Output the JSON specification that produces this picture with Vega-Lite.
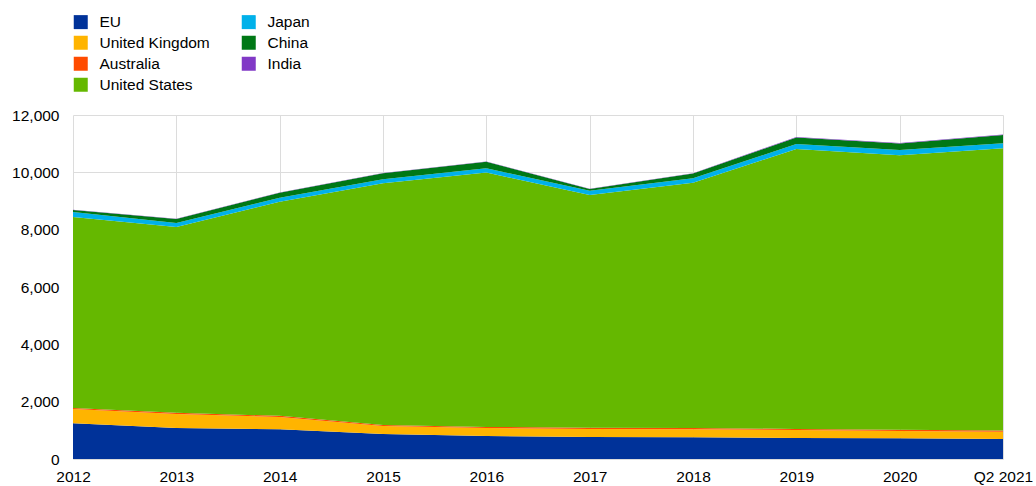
{
  "$schema": "https://vega.github.io/schema/vega-lite/v6.json",
  "autosize": "none",
  "width": 930,
  "height": 344,
  "padding": {"left": 73, "top": 115, "right": 33, "bottom": 27},
  "background": "white",
  "config": {
    "view": {"stroke": null},
    "font": "Liberation Sans"
  },
  "data": {
    "values": [
      {"period": "2012", "country": "EU", "value": 1250},
      {"period": "2012", "country": "United Kingdom", "value": 490},
      {"period": "2012", "country": "Australia", "value": 40},
      {"period": "2012", "country": "United States", "value": 6660},
      {"period": "2012", "country": "Japan", "value": 175},
      {"period": "2012", "country": "China", "value": 70},
      {"period": "2012", "country": "India", "value": 10},
      {"period": "2013", "country": "EU", "value": 1080},
      {"period": "2013", "country": "United Kingdom", "value": 490},
      {"period": "2013", "country": "Australia", "value": 40},
      {"period": "2013", "country": "United States", "value": 6480},
      {"period": "2013", "country": "Japan", "value": 140},
      {"period": "2013", "country": "China", "value": 140},
      {"period": "2013", "country": "India", "value": 10},
      {"period": "2014", "country": "EU", "value": 1040},
      {"period": "2014", "country": "United Kingdom", "value": 425},
      {"period": "2014", "country": "Australia", "value": 40},
      {"period": "2014", "country": "United States", "value": 7470},
      {"period": "2014", "country": "Japan", "value": 140},
      {"period": "2014", "country": "China", "value": 175},
      {"period": "2014", "country": "India", "value": 10},
      {"period": "2015", "country": "EU", "value": 870},
      {"period": "2015", "country": "United Kingdom", "value": 280},
      {"period": "2015", "country": "Australia", "value": 40},
      {"period": "2015", "country": "United States", "value": 8425},
      {"period": "2015", "country": "Japan", "value": 140},
      {"period": "2015", "country": "China", "value": 210},
      {"period": "2015", "country": "India", "value": 10},
      {"period": "2016", "country": "EU", "value": 800},
      {"period": "2016", "country": "United Kingdom", "value": 280},
      {"period": "2016", "country": "Australia", "value": 40},
      {"period": "2016", "country": "United States", "value": 8870},
      {"period": "2016", "country": "Japan", "value": 150},
      {"period": "2016", "country": "China", "value": 230},
      {"period": "2016", "country": "India", "value": 10},
      {"period": "2017", "country": "EU", "value": 770},
      {"period": "2017", "country": "United Kingdom", "value": 280},
      {"period": "2017", "country": "Australia", "value": 40},
      {"period": "2017", "country": "United States", "value": 8120},
      {"period": "2017", "country": "Japan", "value": 150},
      {"period": "2017", "country": "China", "value": 60},
      {"period": "2017", "country": "India", "value": 10},
      {"period": "2018", "country": "EU", "value": 760},
      {"period": "2018", "country": "United Kingdom", "value": 280},
      {"period": "2018", "country": "Australia", "value": 40},
      {"period": "2018", "country": "United States", "value": 8560},
      {"period": "2018", "country": "Japan", "value": 150},
      {"period": "2018", "country": "China", "value": 170},
      {"period": "2018", "country": "India", "value": 10},
      {"period": "2019", "country": "EU", "value": 730},
      {"period": "2019", "country": "United Kingdom", "value": 280},
      {"period": "2019", "country": "Australia", "value": 40},
      {"period": "2019", "country": "United States", "value": 9760},
      {"period": "2019", "country": "Japan", "value": 175},
      {"period": "2019", "country": "China", "value": 230},
      {"period": "2019", "country": "India", "value": 15},
      {"period": "2020", "country": "EU", "value": 720},
      {"period": "2020", "country": "United Kingdom", "value": 260},
      {"period": "2020", "country": "Australia", "value": 40},
      {"period": "2020", "country": "United States", "value": 9580},
      {"period": "2020", "country": "Japan", "value": 175},
      {"period": "2020", "country": "China", "value": 230},
      {"period": "2020", "country": "India", "value": 15},
      {"period": "Q2 2021", "country": "EU", "value": 700},
      {"period": "Q2 2021", "country": "United Kingdom", "value": 250},
      {"period": "Q2 2021", "country": "Australia", "value": 40},
      {"period": "Q2 2021", "country": "United States", "value": 9850},
      {"period": "Q2 2021", "country": "Japan", "value": 175},
      {"period": "Q2 2021", "country": "China", "value": 290},
      {"period": "Q2 2021", "country": "India", "value": 15}
    ]
  },
  "transform": [
    {"calculate": "indexof(['EU','United Kingdom','Australia','United States','Japan','China','India'], datum.country)", "as": "stackorder"}
  ],
  "mark": {"type": "area", "interpolate": "linear"},
  "encoding": {
    "x": {
      "field": "period",
      "type": "ordinal",
      "scale": {"type": "point", "padding": 0},
      "axis": {
        "title": null,
        "labelAngle": 0,
        "domain": false,
        "ticks": false,
        "labelPadding": 10,
        "labelFontSize": 15.5,
        "labelColor": "#000000",
        "grid": true,
        "gridColor": "#dcdcdc",
        "gridWidth": 1
      }
    },
    "y": {
      "field": "value",
      "type": "quantitative",
      "stack": "zero",
      "scale": {"domain": [0, 12000], "nice": false},
      "axis": {
        "title": null,
        "values": [0, 2000, 4000, 6000, 8000, 10000, 12000],
        "format": ",.0f",
        "domain": false,
        "ticks": false,
        "labelPadding": 14,
        "labelFontSize": 15.5,
        "labelColor": "#000000",
        "gridColor": "#dcdcdc",
        "gridWidth": 1
      }
    },
    "order": {"field": "stackorder", "type": "quantitative"},
    "color": {
      "field": "country",
      "type": "nominal",
      "scale": {
        "domain": ["EU", "United Kingdom", "Australia", "United States", "Japan", "China", "India"],
        "range": ["#003299", "#FFB400", "#FF4B00", "#65B800", "#00B1EA", "#007816", "#8139C6"]
      },
      "legend": {
        "title": null,
        "orient": "none",
        "legendX": 0,
        "legendY": -101,
        "columns": 2,
        "symbolType": "square",
        "symbolSize": 196,
        "symbolStrokeWidth": 0,
        "symbolOpacity": 1,
        "labelFontSize": 15.5,
        "labelColor": "#000000",
        "labelOffset": 11,
        "rowPadding": 4,
        "columnPadding": 31
      }
    }
  }
}
